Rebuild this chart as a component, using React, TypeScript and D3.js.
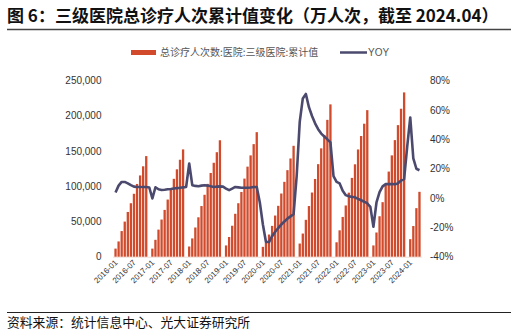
import React from 'react';
import * as d3 from 'd3';

const W = 516;
const H = 333;

const title = '图 6：三级医院总诊疗人次累计值变化（万人次，截至 2024.04）';
const source = '资料来源：统计信息中心、光大证券研究所';
const barName = '总诊疗人次数:医院:三级医院:累计值';
const lineName = 'YOY';

// month categories 2016-01 .. 2024-04
const categories: string[] = [];
for (let y = 2016; y <= 2024; y++) {
  for (let m = 1; m <= 12; m++) {
    if (y === 2024 && m > 4) break;
    categories.push(`${y}-${String(m).padStart(2, '0')}`);
  }
}

const tickLabels = [
  '2016-01', '2016-07', '2017-01', '2017-07', '2018-01', '2018-07', '2019-01', '2019-07',
  '2020-01', '2020-07', '2021-01', '2021-07', '2022-01', '2022-07', '2023-01', '2023-07', '2024-01',
];

// cumulative visits (万人次), December not reported
const bars2016 = [11500, 21700, 36400, 49900, 63600, 76000, 89400, 103400, 115500, 128500, 143000, null];
const bars2017 = [11500, 24000, 38500, 52800, 66500, 81200, 96700, 110700, 124200, 137800, 152500, null];
const bars2018 = [14500, 26000, 41500, 56000, 72000, 88000, 103500, 119000, 133500, 148500, 165500, null];
const bars2019 = [16000, 28000, 44000, 61000, 76000, 92000, 111000, 128000, 144000, 160000, 177000, null];
const bars2020 = [14000, 19700, 31500, 43800, 58500, 72300, 89800, 106400, 123000, 139600, 157600, null];
const bars2021 = [18700, 32900, 52400, 72000, 91200, 110500, 131500, 154000, 172800, 194500, 216500, null];
const bars2022 = [20500, 37500, 56500, 72800, 91000, 112000, 131300, 152400, 171500, 189000, 208300, null];
const bars2023 = [16000, 34400, 57500, 77500, 103000, 121000, 144000, 165700, 187000, 210300, 233500, null];
const bars2024 = [24900, 43600, 69000, 92200];

// YOY (%)
const yoy2016 = [3.8, 8.5, 11, 11, 10, 8.8, 7.8, 7.6, 7.5, 7.6, 7.5, 7.2];
const yoy2017 = [-0.3, 7.4, 6, 5.5, 5.7, 6, 6.2, 6.5, 6.8, 7, 7.3, 7.6];
const yoy2018 = [23.6, 8.8, 8.3, 8.1, 8.5, 8.8, 8.5, 8, 7.6, 7.8, 8, 7.8];
const yoy2019 = [6.5, 5.4, 6.5, 7.6, 7.3, 7, 7, 7, 7.2, 7.5, 7.6, -3];
const yoy2020 = [-18, -30, -30, -26, -23, -20.5, -18, -16, -14, -12.5, -11, 15];
const yoy2021 = [52, 68, 71, 62, 56, 51, 47, 44, 42, 40, 38, 15];
const yoy2022 = [11, 10, 5, 2, 1.2, 0.8, 0.5, -0.5, -1.5, -2.5, -3.7, -6];
const yoy2023 = [-19.6, -3, 4, 8, 9.5, 9.5, 9.5, 9.5, 10, 12, 13, 35];
const yoy2024 = [55, 27, 20, 19];

const leftTicks = [0, 50000, 100000, 150000, 200000, 250000];
const rightTicks = [-40, -20, 0, 20, 40, 60, 80];

const barValues: (number | null)[] = [
  ...bars2016, ...bars2017, ...bars2018, ...bars2019, ...bars2020,
  ...bars2021, ...bars2022, ...bars2023, ...bars2024,
];
const yoyValues: number[] = [
  ...yoy2016, ...yoy2017, ...yoy2018, ...yoy2019, ...yoy2020,
  ...yoy2021, ...yoy2022, ...yoy2023, ...yoy2024,
];

const BAR_COLOR = '#D04A2B';
const LINE_COLOR = '#4B4A6E';
const CJK = '"Noto Sans CJK SC", "Noto Sans", sans-serif';
const NUM = '"Liberation Sans", Arial, sans-serif';

export default function App() {
  const plotTop = 80.8;
  const plotBottom = 256.7;
  const x = d3.scaleBand<string>().domain(categories).range([114, 421]).paddingInner(0.25).paddingOuter(0.125);
  const yL = d3.scaleLinear().domain([0, 250000]).range([plotBottom, plotTop]);
  const yR = d3.scaleLinear().domain([-40, 80]).range([plotBottom, plotTop]);
  const cx = (c: string) => (x(c) as number) + x.bandwidth() / 2;

  const line = d3
    .line<number>()
    .x((_, i) => cx(categories[i]))
    .y((d) => yR(d))
    .curve(d3.curveLinear);

  return (
    <svg width={W} height={H} style={{ position: 'absolute', left: 0, top: 0, background: '#fff' }}>
      <text x={7} y={22} fontFamily={CJK} fontWeight={700} fontSize={17} fill="#111">
        {title}
      </text>
      <line x1={7} x2={511} y1={29.5} y2={29.5} stroke="#444" strokeWidth={1.3} />

      {/* legend */}
      <rect x={131} y={50} width={25} height={5} fill={BAR_COLOR} />
      <text x={160} y={56} fontFamily={CJK} fontSize={10} fill="#555">
        {barName}
      </text>
      <line x1={340} x2={367} y1={52.5} y2={52.5} stroke={LINE_COLOR} strokeWidth={2.5} />
      <text x={368} y={56} fontFamily={NUM} fontSize={10} fill="#555">
        {lineName}
      </text>

      {/* left axis */}
      {leftTicks.map((t) => (
        <text key={t} x={101.5} y={yL(t) + 3.5} textAnchor="end" fontFamily={NUM} fontSize={10} fill="#333">
          {d3.format(',')(t)}
        </text>
      ))}
      {/* right axis */}
      {rightTicks.map((t) => (
        <text key={t} x={430} y={yR(t) + 3.5} textAnchor="start" fontFamily={NUM} fontSize={10} fill="#333">
          {`${t}%`}
        </text>
      ))}

      <line x1={113} x2={422} y1={plotBottom + 0.5} y2={plotBottom + 0.5} stroke="#f0dcd6" strokeWidth={1} />

      {/* bars */}
      {barValues.map((v, i) =>
        v == null ? null : (
          <rect
            key={i}
            x={x(categories[i])}
            y={yL(v)}
            width={x.bandwidth()}
            height={yL(0) - yL(v)}
            fill={BAR_COLOR}
          />
        )
      )}

      {/* line */}
      <path d={line(yoyValues) || ''} fill="none" stroke={LINE_COLOR} strokeWidth={2.6} strokeLinejoin="round" />

      {/* x labels */}
      {tickLabels.map((t) => (
        <text
          key={t}
          transform={`translate(${cx(t) + 2.5},${263}) rotate(-45)`}
          textAnchor="end"
          fontFamily={NUM}
          fontSize={8}
          fill="#333"
        >
          {t}
        </text>
      ))}

      <line x1={7} x2={511} y1={312.5} y2={312.5} stroke="#222" strokeWidth={1} />
      <text x={7} y={327} fontFamily={CJK} fontSize={12.8} fill="#111">
        {source}
      </text>
    </svg>
  );
}
